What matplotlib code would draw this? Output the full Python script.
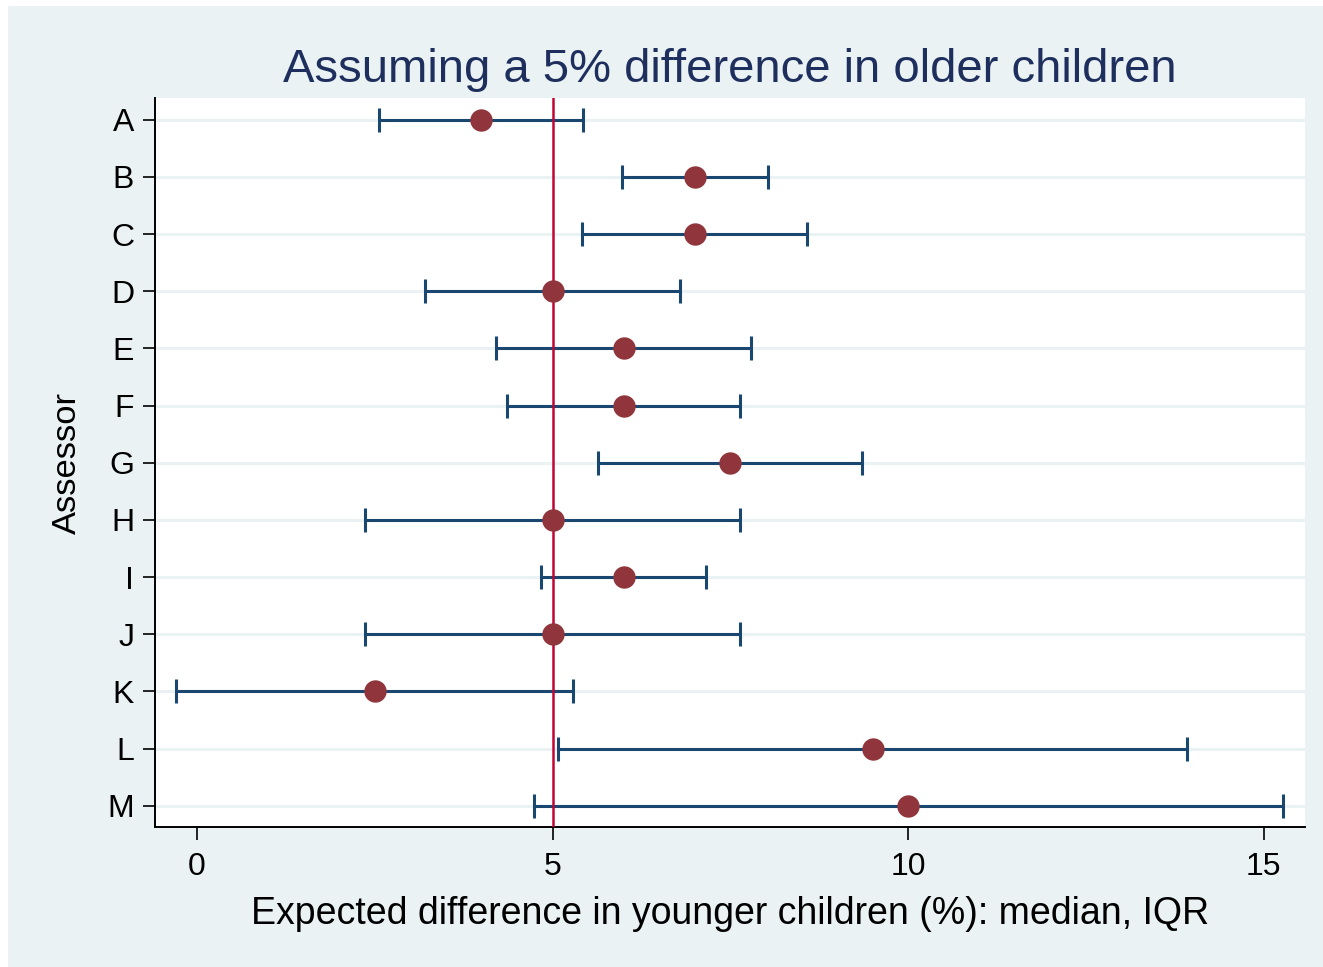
import numpy as np
import matplotlib.pyplot as plt
import matplotlib.patches as mpatches

plt.rcParams['font.family'] = ['Liberation Sans', 'DejaVu Sans']

# assessor medians and IQR bounds
assessors = ['A', 'B', 'C', 'D', 'E', 'F', 'G', 'H', 'I', 'J', 'K', 'L', 'M']
median = [4.0, 7.0, 7.0, 5.0, 6.0, 6.0, 7.5, 5.0, 6.0, 5.0, 2.5, 9.5, 10.0]
q_low = [2.56, 5.98, 5.41, 3.21, 4.21, 4.36, 5.64, 2.36, 4.84, 2.36, -0.30, 5.08, 4.74]
q_high = [5.43, 8.03, 8.58, 6.79, 7.79, 7.64, 9.35, 7.64, 7.16, 7.64, 5.29, 13.92, 15.27]
ref_value = 5
xticks = [0, 5, 10, 15]

bg = '#EAF2F3'
navy = '#1A476F'
dot = '#90353B'
refc = '#C10534'

fig = plt.figure(figsize=(13.23, 9.67), dpi=100)
fig.patch.set_facecolor('white')
# outer light region (white strip on left and top only)
fig.patches.append(mpatches.Rectangle((8 / 1323, 0), 1 - 8 / 1323, 1 - 6 / 967,
                                      transform=fig.transFigure, facecolor=bg,
                                      edgecolor='none', zorder=-10))

ax = fig.add_axes([155 / 1323, 1 - 827 / 967, 1150 / 1323, 729 / 967])
ax.set_facecolor('white')

y = np.arange(1, len(assessors) + 1)
for yy in y:
    ax.axhline(yy, color=bg, lw=2.2, zorder=0)

ax.errorbar(median, y, xerr=[np.array(median) - np.array(q_low),
                             np.array(q_high) - np.array(median)],
            fmt='none', ecolor=navy, elinewidth=2.2, capsize=8.5, capthick=2.2,
            zorder=2)
ax.axvline(ref_value, color=refc, lw=1.8, zorder=3)
ax.scatter(median, y, s=260, color=dot, zorder=4, linewidths=0)

ax.set_xlim(-0.59, 15.58)
ax.set_ylim(13.37, 0.62)
ax.set_yticks(y)
ax.set_yticklabels(assessors)
ax.set_xticks(xticks)

for s in ['top', 'right']:
    ax.spines[s].set_visible(False)
for s in ['left', 'bottom']:
    ax.spines[s].set_linewidth(1.4)
ax.tick_params(axis='both', direction='out', length=9, width=1.2, labelsize=23)
ax.tick_params(axis='y', pad=6)
ax.tick_params(axis='x', pad=9)

ax.set_xlabel('Expected difference in younger children (%): median, IQR',
              fontsize=27, labelpad=10)
ax.set_ylabel('Assessor', fontsize=24.8, labelpad=18)
fig.text(730 / 1323, 1 - 82 / 967, 'Assuming a 5% difference in older children',
         ha='center', va='baseline', fontsize=34, color='#1E2F5E')

fig.savefig('out.png', dpi=100, facecolor=fig.get_facecolor())
